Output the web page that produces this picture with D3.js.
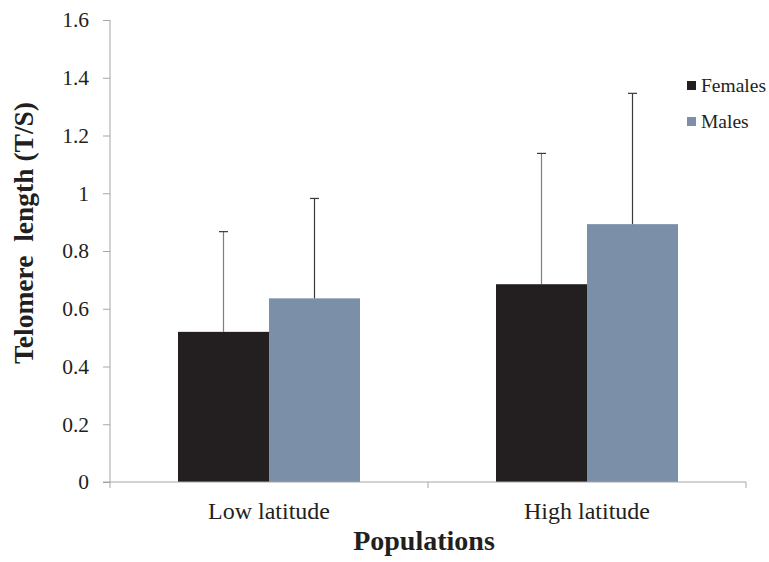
<!DOCTYPE html>
<html><head><meta charset="utf-8">
<script src="https://cdn.jsdelivr.net/npm/d3@7"></script>
<style>
body{margin:0;background:#fff}svg{display:block}
svg text{font-family:"Liberation Serif","Times New Roman",Times,"DejaVu Serif",serif !important}
</style>
</head><body>
<script>
const categories = ["Low latitude", "High latitude"];
const seriesNames = ["Females", "Males"];
const females = [0.52, 0.685];
const males = [0.636, 0.893];
const femalesErr = [0.347, 0.453];
const malesErr = [0.346, 0.453];
const yTicks = [0, 0.2, 0.4, 0.6, 0.8, 1, 1.2, 1.4, 1.6];
const colors = ["#231f20", "#7b8fa9"];

const W = 769, H = 562;
const svg = d3.select("body").append("svg").attr("width", W).attr("height", H);

const x0 = 110, x1 = 746, yTop = 20, yBot = 482;
const x = d3.scaleBand().domain(categories).range([x0, x1]);
const y = d3.scaleLinear().domain([0, 1.6]).range([yBot, yTop]);
const sub = d3.scaleBand().domain(seriesNames).range([0, 182]);

const data = categories.map((c, i) => [
  {cat: c, s: "Females", v: females[i], e: femalesErr[i]},
  {cat: c, s: "Males", v: males[i], e: malesErr[i]}
]).flat();
const off = (x.bandwidth() - 182) / 2;

// y axis
const yAxis = svg.append("g").attr("transform", `translate(${x0},0)`)
  .call(d3.axisLeft(y).tickValues(yTicks).tickSize(7).tickPadding(14).tickFormat(d => String(d)));
yAxis.select(".domain").attr("stroke", "#a6a6a6").attr("d", `M0,${yTop}V${yBot}`);
yAxis.selectAll(".tick line").attr("stroke", "#a6a6a6");
yAxis.selectAll("text").attr("font-size", 21.5).attr("fill", "#231f20");

// bars
svg.append("g").selectAll("rect").data(data).join("rect")
  .attr("x", d => x(d.cat) + off + sub(d.s))
  .attr("y", d => y(d.v))
  .attr("width", sub.bandwidth())
  .attr("height", d => yBot - y(d.v))
  .attr("fill", d => colors[seriesNames.indexOf(d.s)]);

// error bars
const eg = svg.append("g");
data.forEach(d => {
  const cx = x(d.cat) + off + sub(d.s) + sub.bandwidth() / 2;
  const col = d.s === "Females" ? "#7f7f7f" : "#3a3a3a";
  eg.append("line").attr("x1", cx).attr("x2", cx).attr("y1", y(d.v)).attr("y2", y(d.v + d.e))
    .attr("stroke", col).attr("stroke-width", 1.2);
  eg.append("line").attr("x1", cx - 4.5).attr("x2", cx + 4.5).attr("y1", y(d.v + d.e)).attr("y2", y(d.v + d.e))
    .attr("stroke", "#3a3a3a").attr("stroke-width", 1.2);
});

// x axis
const xAxis = svg.append("g").attr("transform", `translate(0,${yBot})`)
  .call(d3.axisBottom(x).tickSize(0).tickPadding(20));
xAxis.select(".domain").attr("stroke", "#a6a6a6").attr("d", `M${x0 - 7},0H${x1}`);
xAxis.selectAll("text").attr("font-size", 24).attr("fill", "#231f20");
const bounds = [x0, x0 + x.bandwidth(), x1];
svg.append("g").selectAll("line").data(bounds).join("line")
  .attr("x1", d => d).attr("x2", d => d).attr("y1", yBot).attr("y2", yBot + 6)
  .attr("stroke", "#a6a6a6");

// axis titles
svg.append("text").attr("x", 424).attr("y", 550).attr("text-anchor", "middle")
  .attr("font-size", 28).attr("font-weight", "bold").attr("fill", "#231f20").text("Populations");
svg.append("text").attr("transform", "translate(33,233) rotate(-90)").attr("text-anchor", "middle")
  .style("white-space", "pre")
  .attr("font-size", 27.5).attr("font-weight", "bold").attr("fill", "#231f20").text("Telomere  length (T/S)");

// legend
const lg = svg.append("g");
seriesNames.forEach((s, i) => {
  const ly = 81 + i * 36;
  lg.append("rect").attr("x", 687).attr("y", ly).attr("width", 9).attr("height", 9).attr("fill", colors[i]);
  lg.append("text").attr("x", 701).attr("y", ly + 10.5).attr("font-size", 19.5)
    .attr("fill", "#231f20").text(s);
});
</script>
</body></html>
